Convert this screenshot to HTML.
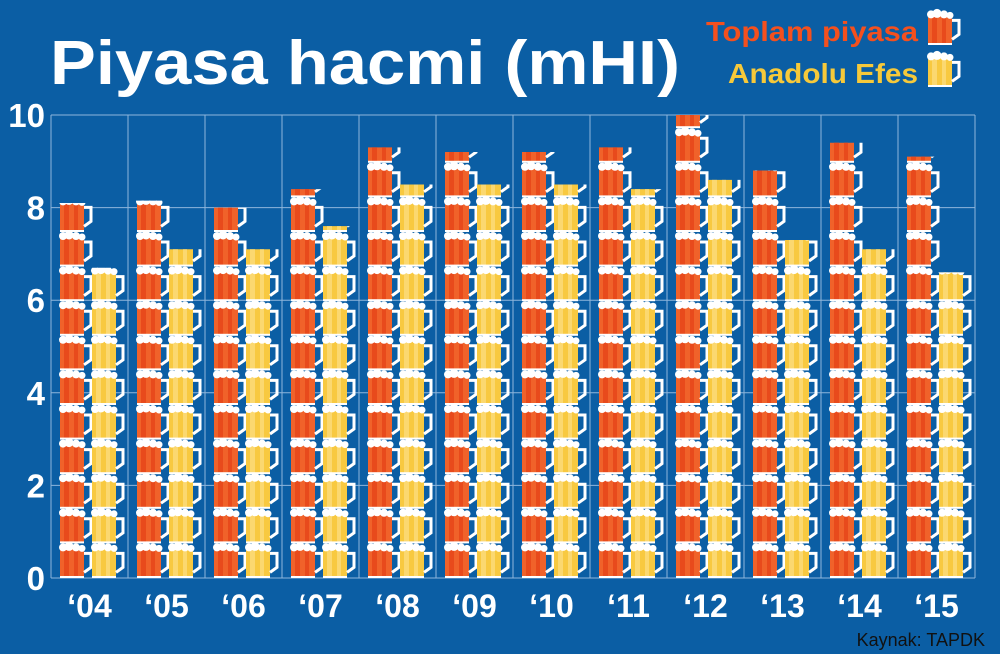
<!DOCTYPE html>
<html><head><meta charset="utf-8"><style>
html,body{margin:0;padding:0;background:#0b5ea4;}
svg{display:block;font-family:"Liberation Sans",sans-serif;}
</style></head><body>
<svg id="chart" width="1000" height="654" viewBox="0 0 1000 654">
<rect width="1000" height="654" fill="#0b5ea4"/>
<text x="50" y="84" font-size="62" font-weight="bold" fill="#fff" textLength="630" lengthAdjust="spacingAndGlyphs">Piyasa hacmi (mHI)</text>
<text x="918" y="41" font-size="28" font-weight="bold" fill="#f4501e" text-anchor="end" textLength="212" lengthAdjust="spacingAndGlyphs">Toplam piyasa</text>
<text x="918" y="83" font-size="28" font-weight="bold" fill="#f6c93a" text-anchor="end" textLength="190" lengthAdjust="spacingAndGlyphs">Anadolu Efes</text>
<g id="grid"></g>
<g id="bars"></g>
<g id="axes"></g>
<text x="985" y="646" font-size="18" fill="#111" text-anchor="end">Kaynak: TAPDK</text>
</svg>
<script>
const categories=["‘04","‘05","‘06","‘07","‘08","‘09","‘10","‘11","‘12","‘13","‘14","‘15"];
const toplam=[8.1,8.15,8.0,8.4,9.3,9.2,9.2,9.3,10.0,8.8,9.4,9.1];
const efes=[6.7,7.1,7.1,7.6,8.5,8.5,8.5,8.4,8.6,7.3,7.1,6.6];
const yTicks=[0,2,4,6,8,10];
const NS="http://www.w3.org/2000/svg";
const L=51,R=975,T=115,B=578,yMax=10,step=(R-L)/categories.length;
const y=v=>B-(B-T)*v/yMax;
const xg=i=>L+i*step;
function el(tag,attrs,parent){const e=document.createElementNS(NS,tag);for(const k in attrs)e.setAttribute(k,attrs[k]);parent.appendChild(e);return e;}
const grid=document.getElementById('grid'),bars=document.getElementById('bars'),axes=document.getElementById('axes');
yTicks.forEach(t=>{
 const ln=el('line',{x1:L,x2:R,y1:y(t),y2:y(t),stroke:'#8fb6dc','stroke-width':1},grid);
 
 
 const tx=el('text',{x:45,y:y(t)+12,'font-size':33,'font-weight':'bold',fill:'#fff','text-anchor':'end'},axes);
 tx.textContent=t;
 
 
});
for(let i=0;i<=categories.length;i++){
 const ln=el('line',{x1:xg(i),x2:xg(i),y1:T,y2:B,stroke:'#8fb6dc','stroke-width':1},grid);
 
 
}
const defs=el('defs',{},document.getElementById('chart'));
const period=34.6;
function mug(g,x,yb,body,stripe){
 const top=yb-period;
 el('rect',{x:x,y:top+5,width:24,height:period-6,fill:body},g);
 el('rect',{x:x+4,y:top+5,width:5,height:period-6,fill:stripe},g);
 el('rect',{x:x+14,y:top+5,width:4,height:period-6,fill:stripe},g);
 el('path',{d:`M${x+24} ${top+10} h7 v14 l-7 5`,fill:'none',stroke:'#fff','stroke-width':3},g);
 el('rect',{x:x,y:yb-2,width:24,height:2,fill:'#fff'},g);
 [[x+3,top+4,4],[x+9,top+3,4.5],[x+16,top+4,4],[x+22,top+5,3.5]].forEach(c=>el('circle',{cx:c[0],cy:c[1],r:c[2],fill:'#fff'},g));
}
function drawBar(i,v,off,body,stripe,name){
 const x=xg(i)+off;
 const cp=el('clipPath',{id:name+i},defs);
 el('rect',{x:x-6,y:y(v),width:44,height:B-y(v)},cp);
 const g=el('g',{'clip-path':`url(#${name+i})`},bars);
 
 
 for(let k=0;k*period<B-y(v)+period;k++) mug(g,x,B-k*period,body,stripe);
}
categories.forEach((c,i)=>{
 drawBar(i,toplam[i],9,'#f0622a','#e84a1c','toplam');
 drawBar(i,efes[i],41,'#f8c940','#fbd870','efes');
 const tx=el('text',{x:xg(i)+step/2,y:617,'font-size':32,'font-weight':'bold',fill:'#fff','text-anchor':'middle'},axes);
 tx.textContent=c;
 
 
});
const lg1=el('g',{},document.getElementById('chart'));


mug(lg1,928,45,'#f0622a','#e84a1c');
const lg2=el('g',{},document.getElementById('chart'));


mug(lg2,928,87,'#f8c940','#fbd870');
</script>
</body></html>
